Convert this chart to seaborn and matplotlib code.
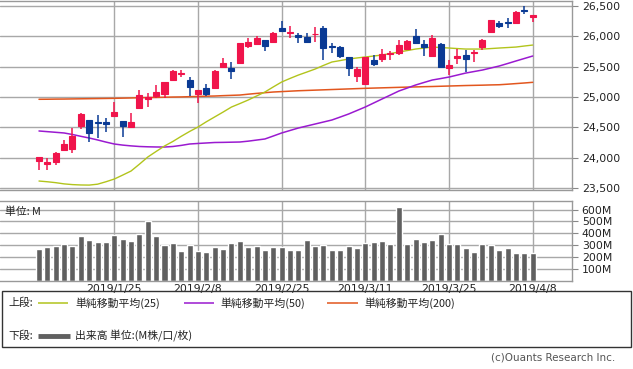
import numpy as np
import pandas as pd
import seaborn as sns
import matplotlib
matplotlib.use("Agg")
import matplotlib.pyplot as plt
from matplotlib.patches import Rectangle
from matplotlib.lines import Line2D

# --- data ---
dates = ["1/11", "1/14", "1/15", "1/16", "1/17", "1/18", "1/22", "1/23", "1/24", "1/25",
         "1/28", "1/29", "1/30", "1/31", "2/1", "2/4", "2/5", "2/6", "2/7", "2/8",
         "2/11", "2/12", "2/13", "2/14", "2/15", "2/19", "2/20", "2/21", "2/22", "2/25",
         "2/26", "2/27", "2/28", "3/1", "3/4", "3/5", "3/6", "3/7", "3/8", "3/11",
         "3/12", "3/13", "3/14", "3/15", "3/18", "3/19", "3/20", "3/21", "3/22", "3/25",
         "3/26", "3/27", "3/28", "3/29", "4/1", "4/2", "4/3", "4/4", "4/5", "4/8"]

opens = [23940, 23895, 23921, 24124, 24140, 24525, 24619, 24585, 24590, 24690,
         24602, 24508, 24820, 24960, 25015, 25048, 25280, 25375, 25274, 25043,
         25147, 25152, 25488, 25470, 25565, 25845, 25868, 25939, 25911, 26132,
         26050, 26016, 25983, 26033, 26132, 25845, 25818, 25653, 25350, 25208,
         25609, 25625, 25703, 25730, 25790, 26005, 25873, 25675, 25868, 25482,
         25637, 25692, 25719, 25829, 26076, 26225, 26241, 26214, 26434, 26313]
highs = [24013, 23990, 24096, 24290, 24480, 24740, 24625, 24700, 24650, 24920,
         24610, 24730, 25110, 25060, 25195, 25250, 25440, 25445, 25335, 25120,
         25213, 25445, 25645, 25582, 25895, 25967, 26005, 25945, 26076, 26258,
         26170, 26060, 26050, 26158, 26175, 25895, 25840, 25660, 25500, 25660,
         25692, 25790, 25757, 25939, 25940, 26120, 25939, 26016, 25895, 25609,
         25785, 25774, 25774, 25955, 26275, 26258, 26296, 26410, 26505, 26355]
lows = [23800, 23790, 23876, 24120, 24080, 24465, 24250, 24320, 24425, 24690,
        24345, 24505, 24800, 24840, 24985, 24976, 25275, 25325, 25020, 24895,
        25015, 25150, 25485, 25296, 25560, 25812, 25865, 25762, 25905, 26080,
        25967, 25884, 25895, 25911, 25609, 25730, 25637, 25345, 25250, 25205,
        25510, 25571, 25609, 25692, 25785, 25884, 25675, 25670, 25495, 25361,
        25543, 25416, 25581, 25774, 26075, 26132, 26142, 26210, 26368, 26241]
closes = [24013, 23920, 24079, 24223, 24360, 24718, 24399, 24570, 24555, 24750,
          24525, 24580, 25030, 25000, 25086, 25246, 25427, 25400, 25169, 25114,
          25048, 25427, 25565, 25432, 25890, 25905, 25967, 25845, 26049, 26088,
          26070, 25993, 25906, 26043, 25812, 25824, 25675, 25471, 25460, 25653,
          25543, 25703, 25730, 25856, 25928, 25895, 25818, 25977, 25499, 25526,
          25675, 25625, 25735, 25939, 26269, 26175, 26214, 26406, 26422, 26351]

# volume in millions
volume = [267, 283, 294, 308, 294, 375, 342, 325, 325, 383,
          353, 333, 397, 508, 375, 300, 317, 250, 300, 250,
          242, 283, 267, 317, 333, 283, 294, 258, 283, 283,
          258, 258, 342, 294, 300, 258, 258, 294, 278, 317,
          325, 333, 308, 619, 308, 353, 325, 342, 394, 308,
          308, 278, 242, 308, 300, 258, 278, 233, 233, 233]

sma25 = [23612, 23600, 23585, 23565, 23553, 23547, 23545, 23560, 23600, 23645,
         23710, 23777, 23890, 24008, 24100, 24190, 24265, 24350, 24430, 24503,
         24590, 24670, 24750, 24833, 24890, 24949, 25015, 25081, 25165, 25246,
         25305, 25361, 25410, 25460, 25520, 25576, 25600, 25626, 25643, 25659,
         25675, 25692, 25716, 25741, 25765, 25790, 25806, 25823, 25815, 25807,
         25798, 25790, 25790, 25790, 25798, 25807, 25815, 25823, 25840, 25856]
sma50 = [24438, 24427, 24416, 24405, 24380, 24350, 24322, 24290, 24255, 24223,
         24205, 24192, 24182, 24177, 24174, 24173, 24182, 24200, 24223, 24232,
         24240, 24248, 24250, 24253, 24256, 24270, 24288, 24306, 24355, 24405,
         24446, 24487, 24520, 24553, 24586, 24619, 24668, 24718, 24776, 24834,
         24900, 24966, 25031, 25097, 25146, 25196, 25238, 25279, 25303, 25328,
         25361, 25394, 25419, 25444, 25477, 25510, 25551, 25593, 25634, 25675]
sma200 = [24961, 24962, 24964, 24965, 24967, 24969, 24971, 24973, 24975, 24977,
          24980, 24983, 24987, 24990, 24992, 24995, 24998, 25000, 25004, 25008,
          25012, 25015, 25021, 25026, 25031, 25045, 25058, 25070, 25081, 25088,
          25095, 25102, 25107, 25112, 25117, 25122, 25127, 25132, 25137, 25142,
          25146, 25150, 25154, 25158, 25162, 25165, 25169, 25172, 25176, 25180,
          25184, 25188, 25191, 25194, 25198, 25201, 25210, 25220, 25230, 25241]

tick_idx = [9, 19, 29, 39, 49, 59]
tick_labels = ["2019/1/25", "2019/2/8", "2019/2/25", "2019/3/11", "2019/3/25", "2019/4/8"]
price_ticks = [23500, 24000, 24500, 25000, 25500, 26000, 26500]
vol_ticks = [100, 200, 300, 400, 500, 600]

# colours
UP = "#f0144b"
DOWN = "#0a3a94"
C25 = "#b2c41c"
C50 = "#9a1ad0"
C200 = "#e2561e"
VOLC = "#606060"
GRID = "#a8a8a8"

sns.set_theme(style="white")
plt.rcParams["font.family"] = ["DejaVu Sans"]
JP = ["Noto Sans CJK JP", "DejaVu Sans"]

df = pd.DataFrame({"i": np.arange(len(dates)), "date": dates, "open": opens, "high": highs,
                   "low": lows, "close": closes, "vol": volume,
                   "sma25": sma25, "sma50": sma50, "sma200": sma200})

fig = plt.figure(figsize=(6.33, 3.69), dpi=100)
W, H = 633, 369
ax = fig.add_axes([0, 1 - 190 / H, 572 / W, 189 / H])
axv = fig.add_axes([0, 1 - 281 / H, 572 / W, 80 / H])

xlim = (-4.66, 63.7)

# --- price panel ---
for a in (ax, axv):
    for x in tick_idx:
        a.axvline(x, color=GRID, lw=1, zorder=0)
for y in price_ticks:
    ax.axhline(y, color=GRID, lw=1, zorder=0)

sns.lineplot(data=df, x="i", y="sma200", ax=ax, color=C200, lw=1.1, zorder=2)
sns.lineplot(data=df, x="i", y="sma50", ax=ax, color=C50, lw=1.1, zorder=2)
sns.lineplot(data=df, x="i", y="sma25", ax=ax, color=C25, lw=1.0, zorder=2)

up = df["close"] >= df["open"]
colors = np.where(up, UP, DOWN)
ax.vlines(df["i"], df["low"], df["high"], colors=colors, lw=1.1, zorder=3)
body_lo = np.minimum(df["open"], df["close"])
body_h = np.abs(df["close"] - df["open"])
ax.bar(df["i"], body_h, bottom=body_lo, width=0.72, color=colors,
       edgecolor=colors, linewidth=0.8, zorder=4)

ax.set_xlim(*xlim)
ax.set_ylim(23464, 26583)
ax.set_yticks(price_ticks)
ax.set_yticklabels([f"{v:,}" for v in price_ticks])
ax.yaxis.tick_right()
ax.tick_params(axis="y", right=True, length=4, width=0.8, color="#888888",
               labelsize=7.8, pad=3, labelcolor="#222222")
ax.set_xticks([])
ax.set_xlabel("")
ax.set_ylabel("")

# --- volume panel ---
for y in vol_ticks:
    axv.axhline(y, color=GRID, lw=1, zorder=0)
sns.barplot(data=df, x="i", y="vol", ax=axv, color=VOLC, saturation=1,
            width=0.72, zorder=2, order=list(df["i"]))
axv.set_xlim(*xlim)
axv.set_ylim(0, 672)
axv.set_yticks(vol_ticks)
axv.set_yticklabels([f"{v}M" for v in vol_ticks])
axv.yaxis.tick_right()
axv.tick_params(axis="y", right=True, length=4, width=0.8, color="#888888",
                labelsize=7.8, pad=3, labelcolor="#222222")
axv.set_xticks(tick_idx)
axv.set_xticklabels(tick_labels)
axv.tick_params(axis="x", length=0, labelsize=7.8, pad=2, labelcolor="#222222")
axv.set_xlabel("")
axv.set_ylabel("")
axv.text(0.008, 0.93, "単位: M", transform=axv.transAxes, ha="left", va="top",
         fontsize=7.8, family=JP, color="#222222")

for a in (ax, axv):
    for s in ["top", "right", "bottom"]:
        a.spines[s].set_visible(True)
        a.spines[s].set_color("#999999")
        a.spines[s].set_linewidth(1)
    a.spines["left"].set_visible(False)

# --- legend box ---
fig.patches.append(Rectangle((2 / W, 1 - 347 / H), 629 / W, 56 / H, transform=fig.transFigure,
                             fill=False, edgecolor="#333333", lw=1))


def fx(px):
    return px / W


def fy(py):
    return 1 - py / H


fig.text(fx(8), fy(303), "上段:", fontsize=7.8, family=JP, va="center", color="#222222")
items = [(38, 68, 75, C25, "単純移動平均(25)"),
         (184, 214, 220, C50, "単純移動平均(50)"),
         (327, 358, 364, C200, "単純移動平均(200)")]
for x0, x1, xt, c, lab in items:
    fig.lines.append(Line2D([fx(x0), fx(x1)], [fy(303), fy(303)], transform=fig.transFigure,
                            color=c, lw=1.1, solid_capstyle="butt"))
    fig.text(fx(xt), fy(303), lab, fontsize=7.8, family=JP, va="center", color="#222222")

fig.text(fx(8), fy(336), "下段:", fontsize=7.8, family=JP, va="center", color="#222222")
fig.lines.append(Line2D([fx(38), fx(70)], [fy(336), fy(336)], transform=fig.transFigure,
                        color=VOLC, lw=3.5, solid_capstyle="butt"))
fig.text(fx(75), fy(336), "出来高 単位:(M株/口/枚)", fontsize=7.8, family=JP, va="center",
         color="#222222")

fig.text(fx(615), fy(357), "(c)Ouants Research Inc.", fontsize=7.5, ha="right", va="center",
         color="#555555")

fig.savefig("out.png", dpi=100)
